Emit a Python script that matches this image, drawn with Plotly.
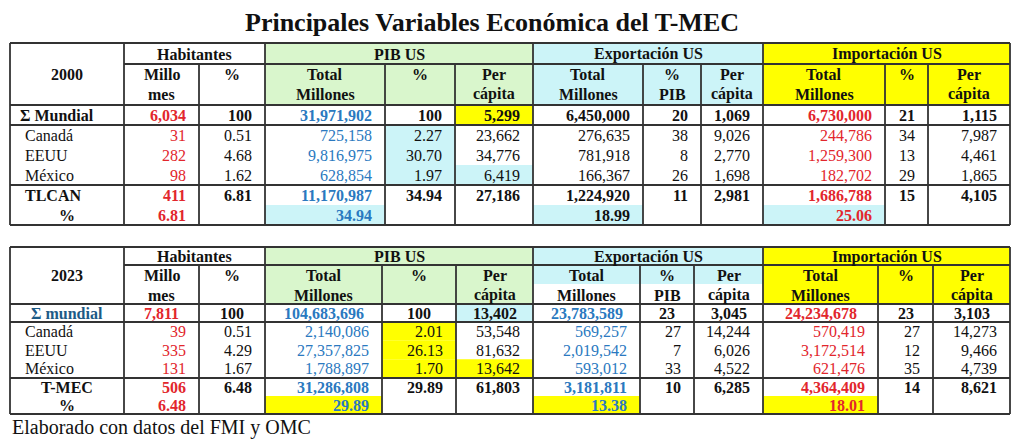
import plotly.graph_objects as go

# ------------------------------------------------------------------ data
TITLE = "Principales Variables Económica del T-MEC"
FOOTER = "Elaborado con datos del FMI y OMC"

GROUPS = ["Habitantes", "PIB US", "Exportación US", "Importación US"]
SUBHEADERS = [["Millo", "mes"], ["%"],
              ["Total", "Millones"], ["%"], ["Per", "cápita"],
              ["Total", "Millones"], ["%", "PIB"], ["Per", "cápita"],
              ["Total", "Millones"], ["%"], ["Per", "cápita"]]

# ---- 2000
year_2000 = "2000"
labels_2000 = ["Σ Mundial", "Canadá", "EEUU", "México", "TLCAN", "%"]
hab_mill_2000 = [6034, 31, 282, 98, 411, 6.81]
hab_pct_2000 = [100, 0.51, 4.68, 1.62, 6.81, None]
pib_total_2000 = [31971902, 725158, 9816975, 628854, 11170987, 34.94]
pib_pct_2000 = [100, 2.27, 30.70, 1.97, 34.94, None]
pib_pc_2000 = [5299, 23662, 34776, 6419, 27186, None]
exp_total_2000 = [6450000, 276635, 781918, 166367, 1224920, 18.99]
exp_pct_2000 = [20, 38, 8, 26, 11, None]
exp_pc_2000 = [1069, 9026, 2770, 1698, 2981, None]
imp_total_2000 = [6730000, 244786, 1259300, 182702, 1686788, 25.06]
imp_pct_2000 = [21, 34, 13, 29, 15, None]
imp_pc_2000 = [1115, 7987, 4461, 1865, 4105, None]

# ---- 2023
year_2023 = "2023"
labels_2023 = ["Σ mundial", "Canadá", "EEUU", "México", "T-MEC", "%"]
hab_mill_2023 = [7811, 39, 335, 131, 506, 6.48]
hab_pct_2023 = [100, 0.51, 4.29, 1.67, 6.48, None]
pib_total_2023 = [104683696, 2140086, 27357825, 1788897, 31286808, 29.89]
pib_pct_2023 = [100, 2.01, 26.13, 1.70, 29.89, None]
pib_pc_2023 = [13402, 53548, 81632, 13642, 61803, None]
exp_total_2023 = [23783589, 569257, 2019542, 593012, 3181811, 13.38]
exp_pct_2023 = [23, 27, 7, 33, 10, None]
exp_pc_2023 = [3045, 14244, 6026, 4522, 6285, None]
imp_total_2023 = [24234678, 570419, 3172514, 621476, 4364409, 18.01]
imp_pct_2023 = [23, 27, 12, 35, 14, None]
imp_pc_2023 = [3103, 14273, 9466, 4739, 8621, None]

# ------------------------------------------------------------------ styles
FONT = "Liberation Serif"
BLACK = "#111111"
RED = "#e2262c"
BLUE = "#2a79c0"
TEAL = "#1d5a86"
GREEN = "#d9f6cc"
CYAN = "#ccf4f8"
YELLOW = "#ffff00"
LINE = dict(color="#333333", width=1.8)
FS = 16
PAGE_MARGIN = 8  # default body margin of the html page

tables = [
    dict(
        year=year_2000, labels=labels_2000,
        cols=[hab_mill_2000, hab_pct_2000, pib_total_2000, pib_pct_2000, pib_pc_2000,
              exp_total_2000, exp_pct_2000, exp_pc_2000,
              imp_total_2000, imp_pct_2000, imp_pc_2000],
        col_colors=[RED, BLACK, BLUE, BLACK, BLACK, BLACK, BLACK, BLACK, RED, BLACK, BLACK],
        label_color=[BLACK] * 6,
        x=[10, 124, 199, 265, 385, 455, 533, 643, 701, 763, 885, 928, 1010],
        y_head=(43, 64, 105),
        y_rows=[105, 125, 145, 165, 185, 205, 225],
        group_fill=[None, (GREEN, 105), (CYAN, 105), (YELLOW, 105)],
        highlights=[(0, 4, YELLOW), (1, 3, CYAN), (2, 3, CYAN), (3, 3, CYAN),
                    (3, 4, CYAN), (5, 2, CYAN), (5, 5, CYAN), (5, 8, CYAN)],
        centered_row0=False, label_center=[False, False, False, False, False, True],
    ),
    dict(
        year=year_2023, labels=labels_2023,
        cols=[hab_mill_2023, hab_pct_2023, pib_total_2023, pib_pct_2023, pib_pc_2023,
              exp_total_2023, exp_pct_2023, exp_pc_2023,
              imp_total_2023, imp_pct_2023, imp_pc_2023],
        col_colors=[RED, BLACK, BLUE, BLACK, BLACK, BLUE, BLACK, BLACK, RED, BLACK, BLACK],
        label_color=[TEAL] + [BLACK] * 5,
        x=[10, 124, 199, 265, 382, 456, 533, 640, 694, 763, 878, 933, 1010],
        y_head=(247, 265, 304),
        y_rows=[304, 322, 340.7, 359.3, 378, 396, 414],
        group_fill=[None, (GREEN, 304), (CYAN, 284), (YELLOW, 304)],
        highlights=[(0, 4, CYAN), (1, 3, YELLOW), (2, 3, YELLOW), (3, 3, YELLOW),
                    (3, 4, YELLOW), (5, 2, YELLOW), (5, 5, YELLOW), (5, 8, YELLOW)],
        centered_row0=True, label_center=[True, False, False, False, True, True],
    ),
]

GROUP_COLS = [(0, 2), (2, 5), (5, 8), (8, 11)]


def fmt(v):
    if v is None:
        return ""
    if isinstance(v, float):
        return f"{v:.2f}"
    return f"{v:,}"


shapes = []
annotations = []


def rect(x0, x1, y0, y1, color):
    shapes.append(dict(type="rect", xref="x", yref="y", x0=x0, x1=x1, y0=y0, y1=y1,
                       fillcolor=color, line=dict(width=0), layer="below"))


def hline(x0, x1, y):
    shapes.append(dict(type="line", xref="x", yref="y", x0=x0, x1=x1, y0=y, y1=y, line=LINE))


def vline(x, y0, y1):
    shapes.append(dict(type="line", xref="x", yref="y", x0=x, x1=x, y0=y0, y1=y1, line=LINE))


def text(x, y, s, color=BLACK, bold=False, anchor="center", size=FS):
    annotations.append(dict(x=x, y=y, xref="x", yref="y", showarrow=False,
                            text=f"<b>{s}</b>" if bold else s,
                            xanchor=anchor, yanchor="middle",
                            font=dict(family=FONT, size=size, color=color)))


for t in tables:
    xs = t["x"]
    y_top, y_grp, y_hdr = t["y_head"]
    yr = t["y_rows"]
    y_bot = yr[-1]
    # ---- fills
    for g, (c0, c1) in enumerate(GROUP_COLS):
        gf = t["group_fill"][g]
        if gf:
            rect(xs[c0 + 1], xs[c1 + 1], y_top, gf[1], gf[0])
    for (r, c, col) in t["highlights"]:
        rect(xs[c + 1], xs[c + 2], yr[r], yr[r + 1], col)
    # ---- lines
    hline(xs[0], xs[-1], y_top)
    hline(xs[1], xs[-1], y_grp)
    hline(xs[0], xs[-1], y_hdr)
    hline(xs[0], xs[-1], yr[1])
    hline(xs[0], xs[-1], yr[4])
    hline(xs[0], xs[-1], y_bot)
    group_edges = {0, 1} | {c1 + 1 for (_, c1) in GROUP_COLS}
    for i, x in enumerate(xs):
        if i in group_edges:
            vline(x, y_top, y_bot)
        else:
            vline(x, y_grp, y_bot)
    # ---- header text
    y_l1, y_l2 = y_grp + 10, y_grp + 30
    text((xs[0] + xs[1]) / 2, y_l1, t["year"], bold=True)
    for g, (c0, c1) in enumerate(GROUP_COLS):
        text((xs[c0 + 1] + xs[c1 + 1]) / 2, (y_top + y_grp) / 2 + 0.5, GROUPS[g], bold=True)
    for c, lines in enumerate(SUBHEADERS):
        cx = (xs[c + 1] + xs[c + 2]) / 2
        for k, s in enumerate(lines):
            text(cx, y_l1 if k == 0 else y_l2, s, bold=True)
    # ---- body
    for r, lab in enumerate(t["labels"]):
        cy = (yr[r] + yr[r + 1]) / 2
        bold = r in (0, 4, 5)
        if t["label_center"][r]:
            text((xs[0] + xs[1]) / 2, cy, lab, color=t["label_color"][r], bold=bold)
        else:
            lx = xs[0] + (8 if r == 0 else 13)
            text(lx, cy, lab, color=t["label_color"][r], bold=bold, anchor="left")
        for c, col in enumerate(t["cols"]):
            s = fmt(col[r])
            if not s:
                continue
            if r == 0 and t["centered_row0"]:
                text((xs[c + 1] + xs[c + 2]) / 2, cy, s, color=t["col_colors"][c], bold=bold)
            else:
                text(xs[c + 2] - 11, cy, s, color=t["col_colors"][c], bold=bold, anchor="right")

# ---- title and footer
text(492, 22, TITLE, bold=True, size=26)
text(10, 427, FOOTER, anchor="left", size=20)

W, H = 1024, 440
fig = go.Figure()
fig.update_layout(
    width=W - PAGE_MARGIN, height=H - PAGE_MARGIN,
    margin=dict(l=0, r=0, t=0, b=0),
    paper_bgcolor="white", plot_bgcolor="white",
    xaxis=dict(range=[PAGE_MARGIN, W], visible=False, fixedrange=True),
    yaxis=dict(range=[H, PAGE_MARGIN], visible=False, fixedrange=True),
    shapes=shapes, annotations=annotations, showlegend=False,
)
fig.write_html("out.html")
